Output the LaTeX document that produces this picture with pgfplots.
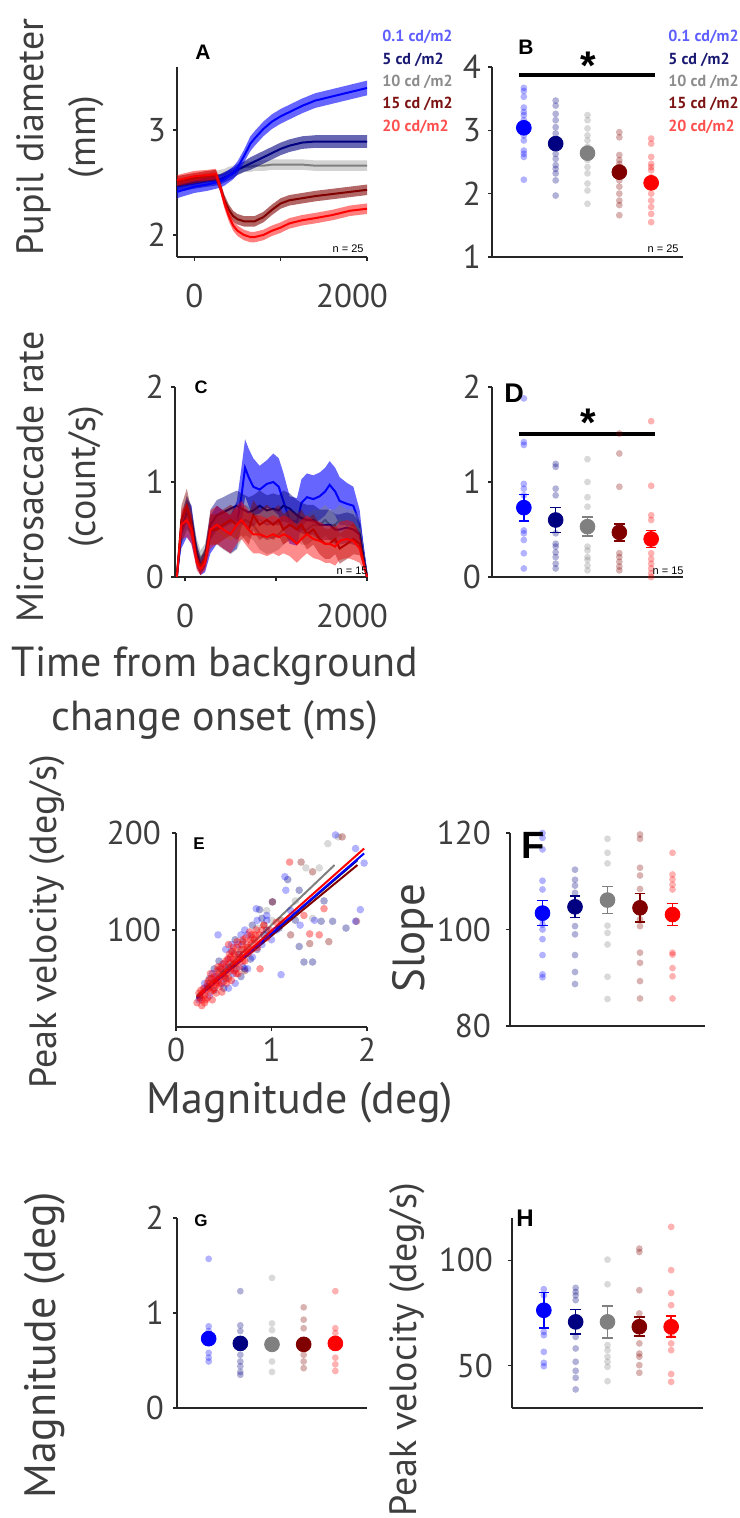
\documentclass[border=0pt]{standalone}
\usepackage{fontspec}
\setmainfont{PT Sans}
\newfontfamily\arialf{Liberation Sans}
\usepackage{pgfplots}
\usepackage{pgfplotstable}
\pgfplotsset{compat=1.18}

\definecolor{cB}{RGB}{0,0,255}
\definecolor{cN}{RGB}{0,0,128}
\definecolor{cG}{RGB}{128,128,128}
\definecolor{cD}{RGB}{128,0,0}
\definecolor{cR}{RGB}{255,0,0}
\definecolor{axc}{RGB}{38,38,38}
\definecolor{labc}{RGB}{62,62,62}
\definecolor{lB}{RGB}{95,95,255}
\definecolor{lN}{RGB}{25,25,115}
\definecolor{lG}{RGB}{140,140,140}
\definecolor{lD}{RGB}{125,20,20}
\definecolor{lR}{RGB}{255,80,80}

\newcommand{\bigf}{\fontsize{19}{26}\selectfont}
\newcommand{\tickf}{\fontsize{16.5}{18}\selectfont}

\pgfplotsset{
  panel/.style={scale only axis, axis lines=left,
    axis line style={-, draw=axc, line width=0.7pt},
    tick style={draw=axc, line width=0.6pt}, tick align=outside,
    major tick length=2pt,
    ticklabel style={font=\tickf, text=labc},
    /pgf/number format/assume math mode=true,
    clip=false, anchor=south west},
  cat/.style={panel, xmin=0, xmax=6, xtick=\empty},
  axA/.style={panel, at={(88.5pt,-128.5pt)}, width=95pt, height=95pt,
    xmin=-200, xmax=2000, ymin=1.79, ymax=3.6},
  axC/.style={panel, at={(87.5pt,-288.5pt)}, width=96pt, height=95pt,
    xmin=-110, xmax=2000, ymin=0, ymax=2},
}

% individual observations
\newcommand{\pts}[2]{\addplot[only marks, mark=*, mark size=1.7pt, color=#1,
  mark options={draw opacity=0, fill=#1, fill opacity=0.3}] coordinates {#2};}
% saccades in the main-sequence scatter
\newcommand{\ptsE}[3]{\addplot[only marks, mark=*, mark size=1.9pt, color=#1,
  mark options={draw opacity=0, fill=#1, fill opacity=#2}] coordinates {#3};}
% mean +- sem
\newcommand{\meanpt}[4]{\addplot[only marks, mark=*, mark size=3.7pt, color=#1,
  error bars/.cd, y dir=both, y explicit,
  error bar style={line width=0.8pt, color=#1},
  error mark options={rotate=90, mark size=2.6pt, line width=0.8pt, color=#1}]
  coordinates {(#2,#3) +- (0,#4)};}
% shaded band (mean +- sem) and mean trace, each in an overlaid axis
\newcommand{\bandax}[5]{%
\begin{axis}[#1, hide axis, stack plots=y]
  \addplot[draw=none] table[x=t, y expr=\thisrow{#3}-\thisrow{#3e}] {#2};
  \addplot[draw=none, fill=#4, fill opacity=#5] table[x=t, y expr=2*\thisrow{#3e}] {#2} \closedcycle;
  \addplot[#4, line width=1pt, stack plots=false] table[x=t, y=#3] {#2};
\end{axis}}

% pupil diameter over time (mm)
\pgfplotstableread{
t b be n ne g ge d de r re
-200 2.41 .06 2.46 .05 2.48 .05 2.51 .05 2.52 .05
0 2.46 .06 2.49 .05 2.51 .05 2.54 .05 2.56 .05
150 2.48 .06 2.51 .05 2.54 .05 2.56 .05 2.57 .05
250 2.50 .06 2.52 .05 2.56 .05 2.57 .05 2.58 .05
300 2.51 .06 2.53 .05 2.57 .05 2.46 .05 2.46 .05
350 2.53 .06 2.55 .05 2.58 .05 2.33 .05 2.30 .05
400 2.56 .06 2.57 .05 2.60 .05 2.24 .05 2.18 .05
450 2.59 .06 2.59 .05 2.61 .05 2.18 .05 2.09 .05
500 2.64 .06 2.62 .05 2.63 .05 2.15 .05 2.04 .05
575 2.75 .06 2.65 .05 2.65 .05 2.13 .05 2.00 .05
650 2.87 .07 2.68 .06 2.65 .05 2.13 .05 1.98 .05
700 2.92 .07 2.70 .06 2.66 .05 2.13 .05 1.98 .05
800 3.01 .07 2.74 .06 2.66 .05 2.17 .05 2.00 .05
900 3.08 .07 2.78 .06 2.67 .05 2.24 .05 2.04 .05
1000 3.13 .07 2.82 .06 2.67 .05 2.30 .05 2.07 .05
1100 3.17 .07 2.85 .06 2.67 .05 2.33 .05 2.11 .05
1250 3.23 .07 2.88 .06 2.67 .05 2.35 .05 2.14 .05
1400 3.28 .07 2.89 .06 2.66 .05 2.37 .05 2.16 .05
1600 3.32 .07 2.89 .06 2.66 .05 2.39 .05 2.19 .05
1800 3.36 .07 2.89 .06 2.66 .05 2.41 .05 2.23 .05
2000 3.40 .07 2.89 .06 2.66 .05 2.43 .05 2.25 .05
}\pupil

% microsaccade rate over time (count/s)
\pgfplotstableread{
t b be n ne g ge d de r re
-90 0 0 0 0 0 0 0 0 0 0
-40 .45 .15 .50 .15 .50 .15 .60 .15 .55 .15
20 .62 .2 .68 .18 .65 .18 .75 .18 .60 .18
70 .55 .2 .60 .15 .55 .15 .55 .15 .50 .15
130 .20 .1 .25 .1 .30 .1 .20 .1 .15 .08
170 .10 .08 .12 .08 .20 .08 .10 .08 .08 .06
220 .15 .1 .20 .1 .25 .1 .20 .1 .15 .08
280 .45 .2 .55 .16 .50 .16 .50 .16 .50 .2
350 .55 .2 .65 .16 .50 .16 .50 .16 .55 .2
420 .50 .2 .68 .16 .45 .16 .55 .16 .50 .2
500 .45 .2 .72 .16 .40 .16 .60 .16 .45 .2
570 .55 .25 .75 .16 .45 .16 .55 .16 .55 .2
620 .85 .3 .72 .16 .55 .16 .60 .16 .60 .2
660 1.15 .3 .70 .16 .60 .16 .55 .16 .55 .2
700 1.05 .3 .68 .16 .58 .16 .50 .16 .50 .2
750 .95 .3 .70 .16 .55 .16 .65 .16 .45 .2
820 .92 .25 .75 .16 .45 .16 .55 .16 .45 .2
900 .98 .25 .70 .16 .40 .16 .60 .16 .42 .2
970 1.0 .3 .72 .16 .42 .16 .55 .16 .45 .2
1030 .95 .3 .70 .16 .45 .16 .60 .16 .42 .2
1080 .80 .3 .75 .16 .50 .16 .50 .16 .45 .2
1150 .60 .25 .72 .16 .55 .16 .55 .16 .42 .2
1230 .58 .25 .65 .16 .55 .16 .50 .16 .35 .2
1280 .78 .25 .62 .16 .50 .16 .55 .16 .40 .2
1340 .84 .25 .60 .16 .50 .16 .45 .16 .45 .2
1410 .82 .25 .60 .16 .55 .16 .50 .16 .40 .2
1480 .85 .25 .55 .16 .55 .16 .40 .16 .38 .2
1540 .90 .25 .55 .16 .60 .16 .35 .16 .35 .2
1590 .97 .25 .55 .16 .55 .16 .35 .16 .35 .2
1650 .90 .25 .50 .16 .55 .16 .40 .16 .32 .2
1700 .80 .25 .50 .16 .60 .16 .30 .16 .38 .2
1780 .77 .22 .52 .16 .55 .16 .35 .16 .40 .2
1850 .75 .2 .50 .16 .55 .16 .40 .16 .38 .2
1920 .55 .15 .45 .12 .50 .12 .35 .12 .30 .15
2000 0 0 0 0 0 0 0 0 0 0
}\msrate

\begin{document}
\begin{tikzpicture}
\useasboundingbox (0,0) rectangle (369.5pt,-759pt);

% ---------- A ----------
\begin{axis}[axA, xtick={0,1000,2000}, xticklabels={0,,{\kern-15pt 2000}},
  ytick={2,3}, xticklabel style={yshift=-8pt}]
\end{axis}
\bandax{axA}{\pupil}{g}{cG}{0.35}
\bandax{axA}{\pupil}{n}{cN}{0.6}
\bandax{axA}{\pupil}{b}{cB}{0.6}
\bandax{axA}{\pupil}{d}{cD}{0.6}
\bandax{axA}{\pupil}{r}{cR}{0.5}

% ---------- B ----------
\begin{axis}[cat, at={(246pt,-128.5pt)}, width=95.5pt, height=95pt,
  ymin=1, ymax=4, ytick={1,2,3,4}]
\pts{cB}{(1,3.67)(1,3.62)(1,3.53)(1,3.36)(1,3.29)(1,3.24)(1,3.16)(1,3.11)(1,3.05)(1,3.00)(1,2.92)(1,2.84)(1,2.68)(1,2.63)(1,2.58)(1,2.22)}
\pts{cN}{(2,3.47)(2,3.39)(2,3.26)(2,3.16)(2,3.05)(2,2.95)(2,2.84)(2,2.74)(2,2.63)(2,2.55)(2,2.45)(2,2.39)(2,2.32)(2,2.21)(2,1.97)}
\pts{cG}{(3,3.24)(3,3.16)(3,3.03)(3,2.92)(3,2.84)(3,2.74)(3,2.63)(3,2.53)(3,2.42)(3,2.32)(3,2.16)(3,2.05)(3,1.84)}
\pts{cD}{(4,2.97)(4,2.89)(4,2.61)(4,2.53)(4,2.47)(4,2.42)(4,2.32)(4,2.21)(4,2.11)(4,2.0)(4,1.89)(4,1.82)(4,1.66)}
\pts{cR}{(5,2.87)(5,2.79)(5,2.58)(5,2.47)(5,2.42)(5,2.37)(5,2.26)(5,2.16)(5,2.0)(5,1.89)(5,1.79)(5,1.68)(5,1.55)}
\meanpt{cB}{1}{3.04}{0.08}
\meanpt{cN}{2}{2.79}{0.08}
\meanpt{cG}{3}{2.64}{0.07}
\meanpt{cD}{4}{2.34}{0.07}
\meanpt{cR}{5}{2.17}{0.07}
\draw[line width=2pt, black] (axis cs:0.85,3.87) -- (axis cs:5.13,3.87);
\end{axis}

% ---------- C ----------
\begin{axis}[axC, xtick={0,1000,2000}, xticklabels={0,,{\kern-15pt 2000}},
  ytick={0,1,2}, xticklabel style={yshift=-8pt}]
\end{axis}
\bandax{axC}{\msrate}{b}{cB}{0.6}
\bandax{axC}{\msrate}{g}{cG}{0.45}
\bandax{axC}{\msrate}{n}{cN}{0.45}
\bandax{axC}{\msrate}{d}{cD}{0.45}
\bandax{axC}{\msrate}{r}{cR}{0.45}

% ---------- D ----------
\begin{axis}[cat, at={(246pt,-288.5pt)}, width=95.5pt, height=95pt,
  ymin=0, ymax=2, ytick={0,1,2}]
\pts{cB}{(1,1.88)(1,1.42)(1,1.39)(1,0.98)(1,0.93)(1,0.86)(1,0.49)(1,0.46)(1,0.39)(1,0.25)(1,0.09)}
\pts{cN}{(2,1.19)(2,1.16)(2,0.93)(2,0.86)(2,0.46)(2,0.35)(2,0.32)(2,0.26)(2,0.21)(2,0.14)(2,0.09)}
\pts{cG}{(3,1.24)(3,1.0)(3,0.84)(3,0.74)(3,0.32)(3,0.28)(3,0.21)(3,0.18)(3,0.12)(3,0.07)}
\pts{cD}{(4,1.51)(4,1.30)(4,0.95)(4,0.25)(4,0.21)(4,0.16)(4,0.11)(4,0.07)}
\pts{cR}{(5,1.64)(5,0.96)(5,0.65)(5,0.60)(5,0.25)(5,0.19)(5,0.14)(5,0.09)(5,0.04)(5,0.0)}
\meanpt{cB}{1}{0.73}{0.14}
\meanpt{cN}{2}{0.60}{0.13}
\meanpt{cG}{3}{0.53}{0.10}
\meanpt{cD}{4}{0.47}{0.09}
\meanpt{cR}{5}{0.40}{0.09}
\draw[line width=2pt, black] (axis cs:0.85,1.505) -- (axis cs:5.13,1.505);
\end{axis}

% ---------- E ----------
\begin{axis}[panel, at={(88pt,-513.5pt)}, width=95.5pt, height=97pt,
  xmin=0, xmax=2, ymin=0, ymax=200, xtick={0,1,2}, ytick={100,200},
  yticklabel style={xshift=-2pt}]
\ptsE{cG}{0.3}{(0.26,33)(0.35,45)(0.45,58)(0.55,52)(0.62,75)(0.75,82)(0.85,102)(1.00,110)(1.36,164)(1.50,164)(1.43,112)(1.59,189)(1.70,196)(0.95,120)(1.25,130)}
\ptsE{cN}{0.35}{(0.25,30)(0.33,42)(0.40,38)(0.47,60)(0.52,50)(0.58,78)(0.63,60)(0.70,88)(0.78,70)(0.875,121)(0.92,95)(1.01,129)(1.08,102)(1.17,152)(1.25,110)(1.29,141)(1.29,83)(1.34,67)(1.43,67)(1.52,109)(1.64,109)(1.78,102)(1.55,130)(0.85,80)(0.68,52)(0.35,50)(0.45,68)(0.62,90)(0.80,105)(0.95,100)(0.72,60)(0.50,40)(0.40,60)(0.55,62)(0.66,75)(0.90,112)}
\ptsE{cD}{0.35}{(0.25,32)(0.34,40)(0.42,46)(0.50,55)(0.60,65)(0.68,80)(0.80,92)(0.92,105)(1.01,129)(1.10,110)(1.31,170)(1.43,160)(1.40,86)(1.60,88)(1.74,196)(1.89,109)(1.20,95)(0.72,58)}
\ptsE{cB}{0.3}{(0.24,28)(0.30,40)(0.35,32)(0.42,52)(0.44,95)(0.48,45)(0.55,70)(0.60,55)(0.65,85)(0.70,62)(0.75,95)(0.80,72)(0.84,122)(0.90,85)(0.95,110)(1.00,90)(1.05,100)(1.10,54)(1.14,155)(1.15,141)(1.20,120)(1.30,105)(1.45,110)(1.67,198)(1.88,184)(1.97,169)(1.93,121)(1.88,109)(0.52,80)(0.62,45)(0.30,45)(0.38,55)(0.50,65)(0.58,85)(0.68,95)(0.72,100)(0.85,110)(0.95,115)(0.55,40)(0.75,60)}
\ptsE{cR}{0.4}{(0.22,25)(0.25,30)(0.27,28)(0.28,35)(0.30,33)(0.32,38)(0.33,30)(0.35,42)(0.36,36)(0.38,45)(0.40,40)(0.41,50)(0.42,44)(0.44,48)(0.45,55)(0.46,42)(0.48,52)(0.50,58)(0.50,47)(0.52,62)(0.53,55)(0.55,50)(0.56,66)(0.58,60)(0.60,70)(0.61,58)(0.63,65)(0.65,75)(0.66,62)(0.68,72)(0.70,80)(0.72,68)(0.74,85)(0.76,76)(0.78,90)(0.80,80)(0.83,95)(0.86,88)(0.90,100)(0.95,92)(1.05,108)(1.19,170)(1.34,115)(1.40,96)(1.55,122)(1.50,95)(0.88,60)(0.38,28)(0.27,22)(0.70,90)(0.60,82)(0.57,72)(0.47,62)(0.24,35)(0.29,40)(0.31,28)(0.34,48)(0.37,50)(0.39,38)(0.43,58)(0.45,45)(0.49,65)(0.51,52)(0.54,70)(0.57,58)(0.59,78)(0.62,68)(0.64,82)(0.67,70)(0.69,85)(0.71,75)(0.73,92)(0.75,82)(0.77,98)(0.79,86)(0.82,90)(0.84,100)(0.87,95)(0.92,105)(0.98,100)(0.36,55)(0.55,85)(0.65,55)(0.48,36)(0.58,48)(0.26,38)(0.33,45)(0.40,52)(0.44,62)(0.52,68)(0.56,75)(0.61,75)(0.64,88)(0.70,68)(0.74,78)(0.79,95)(0.85,82)(0.30,25)(0.42,35)(0.53,45)(0.63,55)}
\addplot[cG, line width=1pt] coordinates {(0.22,32) (1.66,167)};
\addplot[cN, line width=1pt] coordinates {(0.22,30) (1.90,172)};
\addplot[cD, line width=1pt] coordinates {(0.22,31) (1.90,167)};
\addplot[cB, line width=1pt] coordinates {(0.22,30) (1.97,179)};
\addplot[cR, line width=1pt] coordinates {(0.22,31) (1.97,184)};
\end{axis}

% ---------- F ----------
\begin{axis}[cat, at={(255pt,-513pt)}, width=97.5pt, height=96.5pt,
  ymin=80, ymax=120, ytick={80,100,120}, yticklabel style={xshift=-4pt}]
\pts{cB}{(1,120)(1,119)(1,116.6)(1,110.1)(1,108.3)(1,102.1)(1,101)(1,100)(1,98)(1,94.7)(1,90.7)(1,90.1)}
\pts{cN}{(2,112.4)(2,110.3)(2,109.1)(2,107.6)(2,100.7)(2,99)(2,94.7)(2,91.2)(2,88.7)}
\pts{cG}{(3,118.8)(3,115.9)(3,113.7)(3,100.8)(3,99.3)(3,96.9)(3,90.2)(3,85.6)}
\pts{cD}{(4,119.7)(4,118.8)(4,112.8)(4,111.2)(4,108.4)(4,102.1)(4,100.7)(4,95.2)(4,93.1)(4,89.3)(4,85.7)}
\pts{cR}{(5,115.9)(5,111.4)(5,110.4)(5,109.3)(5,108.3)(5,95.2)(5,94.8)(5,92.0)(5,90.3)(5,85.7)}
\meanpt{cB}{1}{103.4}{2.6}
\meanpt{cN}{2}{104.7}{2.2}
\meanpt{cG}{3}{106.1}{2.8}
\meanpt{cD}{4}{104.5}{3.0}
\meanpt{cR}{5}{103.1}{2.3}
\end{axis}

% ---------- G ----------
\begin{axis}[cat, at={(88.5pt,-704pt)}, width=95pt, height=95pt,
  ymin=0, ymax=2, ytick={0,1,2}, yticklabel style={xshift=-1pt}]
\pts{cB}{(1,1.57)(1,0.86)(1,0.81)(1,0.58)(1,0.53)(1,0.49)}
\pts{cN}{(2,1.23)(2,0.87)(2,0.81)(2,0.56)(2,0.49)(2,0.44)(2,0.38)(2,0.35)}
\pts{cG}{(3,1.37)(3,0.89)(3,0.82)(3,0.49)(3,0.38)}
\pts{cD}{(4,1.06)(4,0.93)(4,0.84)(4,0.56)(4,0.49)(4,0.42)}
\pts{cR}{(5,1.23)(5,0.84)(5,0.79)(5,0.53)(5,0.46)(5,0.39)}
\meanpt{cB}{1}{0.73}{0.03}
\meanpt{cN}{2}{0.68}{0.03}
\meanpt{cG}{3}{0.67}{0.03}
\meanpt{cD}{4}{0.67}{0.03}
\meanpt{cR}{5}{0.68}{0.03}
\end{axis}

% ---------- H ----------
\begin{axis}[cat, at={(256pt,-704pt)}, width=95.5pt, height=95pt,
  ymin=30, ymax=120, ytick={50,100}, yticklabel style={xshift=-4pt}]
\pts{cB}{(1,86.3)(1,83.4)(1,66.1)(1,64.5)(1,56.6)(1,51.4)(1,49.8)}
\pts{cN}{(2,86.9)(2,85.0)(2,83.4)(2,81.1)(2,63.7)(2,58.2)(2,51.9)(2,47.6)(2,44.3)(2,38.8)}
\pts{cG}{(3,100.3)(3,88.6)(3,59.8)(3,57.4)(3,54.3)(3,51.9)(3,49.5)(3,42.7)}
\pts{cD}{(4,105.5)(4,103.9)(4,85.8)(4,74.8)(4,60.6)(4,55.8)(4,54.3)(4,50.3)(4,46.7)}
\pts{cR}{(5,115.8)(5,95.3)(5,84.5)(5,78.7)(5,64.5)(5,60.6)(5,57.4)(5,46.1)(5,42.4)}
\meanpt{cB}{1}{76.3}{8.5}
\meanpt{cN}{2}{70.8}{5.8}
\meanpt{cG}{3}{70.8}{7.5}
\meanpt{cD}{4}{68.5}{4.5}
\meanpt{cR}{5}{68.5}{5.0}
\end{axis}

% ---------- annotations (pixel grid of the reference) ----------
\begin{scope}[x=0.5pt, y=-0.5pt, text=labc]
\node[rotate=90, align=center, font=\bigf] at (60,137) {Pupil diameter\\(mm)};
\node[rotate=90, align=center, font=\bigf] at (60,477) {Microsaccade rate\\(count/s)};
\node[align=center, font=\fontsize{21}{27}\selectfont] at (215,693) {Time from background\\change onset (ms)};
\node[rotate=90, font=\bigf] at (47,922) {Peak velocity (deg/s)};
\node[font=\fontsize{22}{26}\selectfont] at (300,1103) {Magnitude (deg)};
\node[rotate=90, font=\fontsize{22.5}{26}\selectfont] at (413,938) {Slope};
\node[rotate=90, font=\fontsize{22}{26}\selectfont] at (45,1345) {Magnitude (deg)};
\node[rotate=90, font=\bigf] at (407,1350) {Peak velocity (deg/s)};

\begin{scope}[text=black]
\node[font=\arialf\bfseries\fontsize{10.5}{12}\selectfont] at (203,52) {A};
\node[font=\arialf\bfseries\fontsize{10.5}{12}\selectfont] at (526,47) {B};
\node[font=\arialf\bfseries\fontsize{9}{11}\selectfont] at (201,387) {C};
\node[font=\arialf\bfseries\fontsize{13.5}{15}\selectfont] at (514,393) {D};
\node[font=\arialf\bfseries\fontsize{8.5}{10}\selectfont] at (199,844) {E};
\node[font=\arialf\bfseries\fontsize{19}{21}\selectfont] at (533,845) {F};
\node[font=\arialf\bfseries\fontsize{8.5}{10}\selectfont] at (201,1221) {G};
\node[font=\arialf\bfseries\fontsize{12}{14}\selectfont] at (525,1218) {H};
\node[font=\arialf\bfseries\fontsize{20}{22}\selectfont] at (588,66) {*};
\node[font=\arialf\bfseries\fontsize{20}{22}\selectfont] at (588,423) {*};
\end{scope}

\begin{scope}[text=black, font=\arialf\fontsize{5.5}{6}\selectfont]
\node[anchor=base east, inner sep=0pt] at (364,253) {n = 25};
\node[anchor=base east, inner sep=0pt] at (679,253) {n = 25};
\node[anchor=base east, inner sep=0pt] at (368,574) {n = 15};
\node[anchor=base east, inner sep=0pt] at (684,574) {n = 15};
\end{scope}

\begin{scope}[font=\fontsize{8}{9}\selectfont\bfseries]
\foreach \xx in {382,668} {
  \node[anchor=west, inner sep=0pt, text=lB] at (\xx,37) {0.1 cd/m2};
  \node[anchor=west, inner sep=0pt, text=lN] at (\xx,60) {5 cd /m2};
  \node[anchor=west, inner sep=0pt, text=lG] at (\xx,82) {10 cd /m2};
  \node[anchor=west, inner sep=0pt, text=lD] at (\xx,104) {15 cd /m2};
  \node[anchor=west, inner sep=0pt, text=lR] at (\xx,127) {20 cd/m2};
}
\end{scope}
\end{scope}
\end{tikzpicture}
\end{document}
